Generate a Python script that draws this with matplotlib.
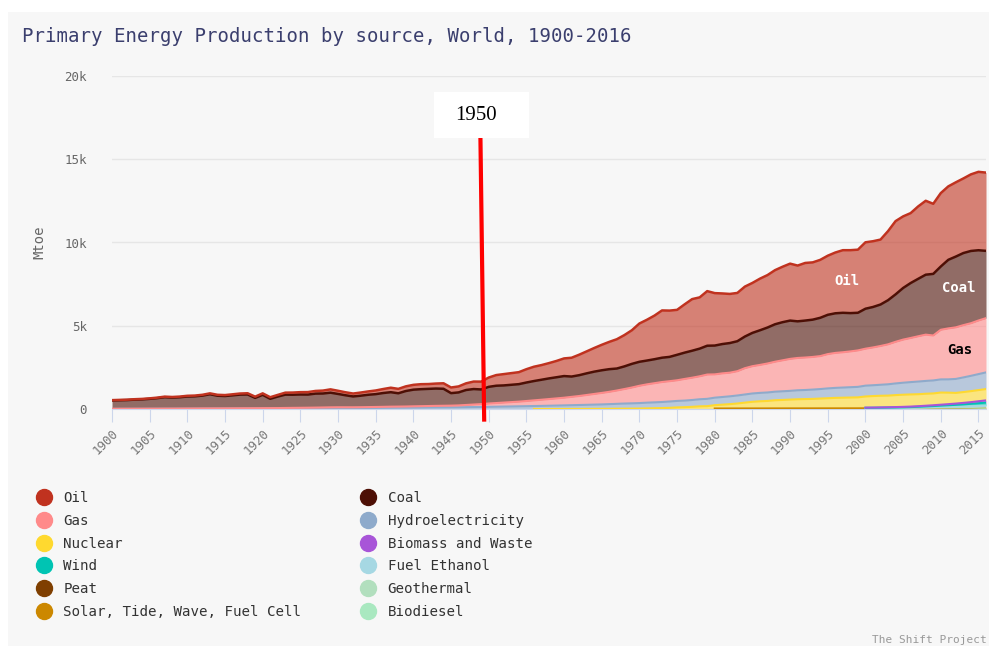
import numpy as np
import matplotlib
matplotlib.use("Agg")
import matplotlib.pyplot as plt
from matplotlib.lines import Line2D
from matplotlib.patches import Rectangle

MONO = "DejaVu Sans Mono"

years = np.arange(1900, 2017)

oil = [20, 22, 24, 26, 28, 30, 32, 35, 38, 40,
       44, 46, 50, 54, 56, 58, 62, 66, 70, 74,
       90, 95, 100, 120, 130, 140, 150, 160, 175, 200,
       190, 180, 175, 190, 200, 220, 240, 270, 265, 280,
       290, 300, 290, 300, 330, 340, 360, 400, 450, 470,
       560, 640, 680, 700, 720, 800, 860, 880, 920, 980,
       1060, 1130, 1230, 1320, 1420, 1530, 1640, 1760, 1880, 2020,
       2300, 2450, 2620, 2840, 2780, 2700, 2900, 3100, 3080, 3280,
       3150, 3040, 2950, 2900, 3000, 3000, 3100, 3150, 3250, 3330,
       3420, 3350, 3460, 3440, 3480, 3550, 3650, 3760, 3780, 3790,
       3990, 3950, 3900, 4150, 4400, 4300, 4200, 4350, 4440, 4210,
       4410, 4410, 4460, 4480, 4600, 4710, 4700]

coal = [500, 510, 520, 545, 560, 590, 630, 685, 660, 680,
        720, 730, 770, 850, 760, 740, 780, 820, 830, 620,
        800, 560, 690, 800, 790, 800, 790, 840, 840, 880,
        800, 720, 650, 690, 740, 770, 830, 870, 800, 930,
        1000, 1020, 1030, 1040, 1020, 750, 780, 900, 930, 880,
        1000, 1040, 1030, 1040, 1050, 1110, 1160, 1200, 1240, 1270,
        1300, 1220, 1250, 1300, 1340, 1360, 1360, 1320, 1360, 1420,
        1440, 1430, 1440, 1460, 1460, 1530, 1580, 1620, 1660, 1730,
        1730, 1760, 1780, 1800, 1900, 2000, 2080, 2160, 2250, 2290,
        2300, 2200, 2220, 2240, 2300, 2360, 2380, 2370, 2300, 2260,
        2400, 2430, 2490, 2650, 2850, 3100, 3300, 3450, 3600, 3700,
        3800, 4120, 4250, 4330, 4340, 4220, 4040]

gas = [5, 6, 6, 7, 7, 8, 8, 9, 9, 10,
       12, 13, 14, 15, 15, 16, 17, 18, 18, 19,
       20, 21, 22, 26, 30, 32, 34, 38, 42, 48,
       50, 48, 46, 48, 52, 56, 60, 65, 66, 68,
       75, 80, 85, 90, 95, 100, 110, 130, 150, 170,
       200, 220, 240, 260, 280, 310, 340, 370, 400, 430,
       460, 500, 540, 590, 640, 690, 740, 800, 870, 950,
       1040, 1100, 1150, 1200, 1220, 1240, 1300, 1340, 1380, 1460,
       1400, 1420, 1420, 1460, 1580, 1640, 1680, 1740, 1800, 1860,
       1920, 1940, 1950, 1960, 1980, 2060, 2100, 2120, 2150, 2190,
       2220, 2270, 2330, 2400, 2500, 2590, 2650, 2720, 2780, 2700,
       2980, 3060, 3100, 3140, 3160, 3220, 3260]

hydro = [8, 9, 10, 10, 11, 12, 13, 14, 15, 16,
         17, 18, 20, 21, 22, 23, 24, 26, 27, 28,
         30, 32, 34, 36, 38, 40, 43, 46, 49, 52,
         55, 56, 58, 60, 63, 66, 70, 74, 78, 82,
         86, 90, 94, 98, 100, 102, 106, 112, 118, 124,
         130, 138, 146, 154, 162, 170, 178, 186, 195, 205,
         215, 225, 235, 245, 255, 265, 280, 295, 310, 320,
         330, 345, 355, 365, 380, 390, 395, 410, 425, 440,
         450, 460, 470, 480, 490, 500, 505, 510, 515, 520,
         525, 540, 545, 560, 570, 590, 600, 610, 620, 630,
         650, 650, 660, 680, 700, 720, 740, 760, 770, 780,
         790, 800, 840, 880, 920, 960, 1000]

# series that only start later: (first year, values)
nuclear = (1956, [1, 1, 2, 2,
                  3, 4, 5, 6, 8, 10, 12, 15, 18, 20,
                  25, 35, 45, 55, 70, 95, 110, 130, 160, 170,
                  200, 230, 260, 300, 350, 400, 430, 450, 490, 510,
                  530, 550, 560, 570, 590, 610, 630, 640, 650, 660,
                  670, 690, 700, 700, 720, 730, 730, 720, 720, 710,
                  730, 690, 640, 650, 660, 670, 680])
biomass = (2000, [12, 14, 16, 19, 22, 26, 30, 35, 40, 47,
                  55, 64, 75, 87, 100, 118, 135])
wind = (2000, [6, 8, 11, 14, 18, 23, 28, 37, 47, 58,
               72, 88, 105, 125, 145, 170, 195])
ethanol = (2000, [8, 9, 10, 11, 13, 15, 19, 24, 32, 38,
                  43, 45, 44, 45, 47, 49, 51])
peat = (1980, [])
geothermal = (2000, [15, 15, 16, 16, 17, 17, 18, 18, 19, 19,
                     20, 20, 21, 21, 22, 22, 23])
solar = (1980, [30, 30, 31, 31, 32, 32, 33, 33, 34, 34,
                35, 35, 36, 36, 37, 37, 38, 38, 39, 39,
                40, 40, 41, 42, 43, 44, 45, 46, 48, 50,
                53, 57, 62, 68, 74, 80, 86])
biodiesel = (2000, [1, 1, 1, 2, 2, 3, 5, 8, 10, 13, 15, 17, 19, 21, 24, 26, 28])


def full(series):
    start, vals = series
    out = np.zeros(len(years))
    i = start - years[0]
    out[i:i + len(vals)] = vals
    return out


# bottom to top
layers = [
    ("Biodiesel", full(biodiesel), "#a9e8c0"),
    ("Solar, Tide, Wave, Fuel Cell", full(solar), "#cc8800"),
    ("Geothermal", full(geothermal), "#b2dfbe"),
    ("Peat", full(peat), "#7f3f00"),
    ("Fuel Ethanol", full(ethanol), "#a6d8e3"),
    ("Wind", full(wind), "#00c4b3"),
    ("Biomass and Waste", full(biomass), "#a855d8"),
    ("Nuclear", full(nuclear), "#ffd92f"),
    ("Hydroelectricity", np.array(hydro, float), "#8eaacb"),
    ("Gas", np.array(gas, float), "#ff8a8a"),
    ("Coal", np.array(coal, float), "#4d0f05"),
    ("Oil", np.array(oil, float), "#c0321f"),
]
colors = {name: c for name, _, c in layers}

fig = plt.figure(figsize=(9.89, 6.46), dpi=100, facecolor="white")
fig.patches.append(Rectangle((8 / 989, 0), 1, 1 - 12 / 646, transform=fig.transFigure,
                             facecolor="#f7f7f7", edgecolor="none", zorder=-10))

ax = fig.add_axes([112 / 989, 1 - 409 / 646, 874 / 989, 333 / 646])
ax.set_facecolor("none")

base = np.zeros(len(years))
for name, vals, c in layers:
    top = base + vals
    ax.fill_between(years, base, top, color=c, alpha=0.6, linewidth=0, zorder=2)
    mask = vals > 0
    if mask.any():
        lw = 1.8 if name in ("Oil", "Coal") else 1.5
        ax.plot(years[mask], top[mask], color=c, lw=lw, zorder=3)
    base = top

ax.set_xlim(1900, 2016)
ax.set_ylim(0, 20000)
ax.set_yticks([0, 5000, 10000, 15000, 20000])
ax.set_yticklabels(["0", "5k", "10k", "15k", "20k"])
ax.set_xticks(np.arange(1900, 2016, 5))
ax.set_xticklabels([str(y) for y in range(1900, 2016, 5)], rotation=45, ha="right",
                   rotation_mode="anchor")
ax.grid(axis="y", color="#e6e6e6", lw=1, zorder=0)
ax.set_axisbelow(True)
for s in ["top", "right", "left"]:
    ax.spines[s].set_visible(False)
ax.spines["bottom"].set_color("#ccd6eb")
ax.tick_params(axis="y", length=0, pad=18, labelsize=9, labelcolor="#666666")
ax.tick_params(axis="x", length=9, color="#ccd6eb", pad=4, labelsize=9, labelcolor="#777777")
for lab in ax.get_xticklabels() + ax.get_yticklabels():
    lab.set_family(MONO)

ax.set_ylabel("Mtoe", family=MONO, fontsize=10, color="#666666")
ax.yaxis.set_label_coords(-66 / 874, 0.5)

# labels inside the areas
ax.text(1997.6, 7700, "Oil", color="white", family=MONO, fontsize=10, fontweight="bold",
        ha="center", va="center", zorder=5)
ax.text(2012.4, 7250, "Coal", color="white", family=MONO, fontsize=10, fontweight="bold",
        ha="center", va="center", zorder=5)
ax.text(2012.5, 3540, "Gas", color="black", family=MONO, fontsize=10, fontweight="bold",
        ha="center", va="center", zorder=5)

# 1950 marker
ax.plot([1948.9, 1949.4], [16280, -760], color="#ff0000", lw=3, zorder=6, clip_on=False,
        solid_capstyle="butt")
fig.patches.append(Rectangle((434 / 989, 1 - 138 / 646), 95 / 989, 46 / 646,
                             transform=fig.transFigure, facecolor="white",
                             edgecolor="none", zorder=5))
fig.text(476 / 989, 1 - 115 / 646, "1950", family="Liberation Serif", fontsize=15,
         ha="center", va="center", color="black", zorder=6)

fig.text(22 / 989, 1 - 37 / 646, "Primary Energy Production by source, World, 1900-2016",
         family=MONO, fontsize=13.65, color="#3b3f6e", va="center", ha="left")

fig.text(987 / 989, 1 - 640 / 646, "The Shift Project", family=MONO, fontsize=8,
         color="#999999", ha="right", va="center")

# legend, column by column
order = ["Oil", "Gas", "Nuclear", "Wind", "Peat", "Solar, Tide, Wave, Fuel Cell",
         "Coal", "Hydroelectricity", "Biomass and Waste", "Fuel Ethanol", "Geothermal",
         "Biodiesel"]
handles = [Line2D([], [], marker="o", linestyle="", markersize=11.5, color=colors[n])
           for n in order]
leg = fig.legend(handles, order, loc="upper left", bbox_to_anchor=(37 / 989, 1 - 491 / 646),
                 ncol=2, frameon=False, handlelength=1.0, handletextpad=0.85,
                 columnspacing=4.25, labelspacing=0.62, borderpad=0, borderaxespad=0,
                 prop={"family": MONO, "size": 10.2})
for t in leg.get_texts():
    t.set_color("#333333")

fig.savefig("out.png", dpi=100, facecolor="white")
